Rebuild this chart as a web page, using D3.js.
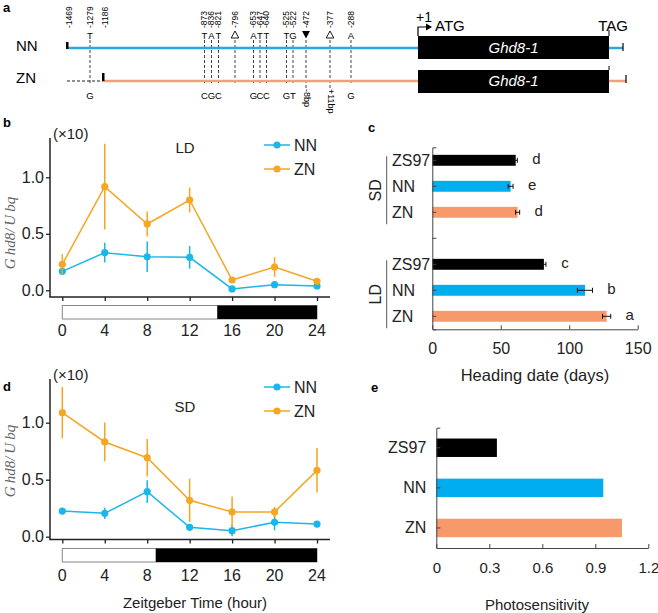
<!DOCTYPE html>
<html><head><meta charset="utf-8">
<script src="https://cdn.jsdelivr.net/npm/d3@7"></script>
<style>
body{margin:0;background:#fff}
svg{display:block}
text{font-family:"Liberation Sans",Arial,Helvetica,sans-serif}
</style>
</head><body><svg id="chart" width="658" height="613"></svg>
<script>
// ---------------- data ----------------
const hours = [0,4,8,12,16,20,24];
const ldNN    = [0.168,0.333,0.297,0.292,0.012,0.050,0.038];
const ldNNerr = [0.03,0.088,0.135,0.10,0.015,0.02,0.015];
const ldZN    = [0.230,0.917,0.587,0.799,0.091,0.206,0.080];
const ldZNerr = [0.09,0.38,0.11,0.11,0.015,0.087,0.02];
const sdNN    = [0.225,0.205,0.395,0.082,0.053,0.126,0.111];
const sdNNerr = [0.02,0.05,0.10,0.03,0.05,0.07,0.015];
const sdZN    = [1.088,0.831,0.693,0.319,0.217,0.217,0.582];
const sdZNerr = [0.225,0.17,0.165,0.19,0.136,0.044,0.195];
const exprTicks = [0,0.5,1.0];
const ldLightHours = 14.6, sdLightHours = 8.8;

const genotypes = ["ZS97","NN","ZN"];
const headingSD    = [60.9,57.2,62.3];
const headingSDerr = [1.2,1.8,1.5];
const headingLD    = [81.5,111.5,127.3];
const headingLDerr = [1.5,5.5,3.0];
const lettersSD = ["d","e","d"];
const lettersLD = ["c","b","a"];
const headingTicks = [0,50,100,150];

const photosensitivity = [0.343,0.945,1.051];
const photoTicks = [0,0.3,0.6,0.9,1.2];

const variantPos = [-1279,-873,-836,-821,-796,-653,-647,-640,-525,-522,-472,-377,-288];
const nnAllele   = ["T","T","A","T","open","A","T","T","T","G","filled","open","A"];
const znAllele   = ["G","C","G","C","","G","C","C","G","T","-8bp","+11bp","G"];
const posLabels  = [-1469,-1279,-1186,-873,-836,-821,-796,-653,-647,-640,-525,-522,-472,-377,-288];
const nnStart=-1469, znStart=-1186, atgPos=1, tagPos=894, nnEnd=960, znEnd=975;

// ---------------- colours ----------------
const cNN="#1bb6ea", cZN="#f5a623";
const bNN="#00aeef", bZN="#f8996b";
const gNN="#2aa9e0", gZN="#f2a07c";

const svg = d3.select("#chart");

// panel letters
[["a",3,12],["b",3,127],["c",368,132],["d",3,391],["e",371,392]].forEach(([t,x,y])=>{
  svg.append("text").attr("x",x).attr("y",y).attr("font-size",13).attr("font-weight","bold").text(t);
});

// ================= Panel a =================
(function(){
  const g = svg.append("g");
  const px = d3.scaleLinear()
    .domain([-1469,-1279,-1186,-873,-836,-821,-796,-653,-647,-640,-525,-522,-472,-377,-288,1,894,960,975])
    .range([67,90,103,204.5,211.5,218.5,235,253.5,260,266.5,286.5,293,306,330,351,418,609,623,626]);
  const yNN=48, yZN=81;
  g.append("text").attr("x",16).attr("y",yNN+3).attr("font-size",15).text("NN");
  g.append("text").attr("x",16).attr("y",yZN+2).attr("font-size",15).text("ZN");

  // dashed variant lines
  variantPos.forEach((p,i)=>{
    const ext = (znAllele[i].indexOf("bp")>=0) ? 88 : 85;
    g.append("line").attr("x1",px(p)).attr("x2",px(p)).attr("y1",40).attr("y2",ext)
      .attr("stroke","#444").attr("stroke-width",1).attr("stroke-dasharray","3,2");
  });
  // lines
  g.append("line").attr("x1",px(nnStart)).attr("x2",px(atgPos)).attr("y1",yNN).attr("y2",yNN).attr("stroke",gNN).attr("stroke-width",2.5);
  g.append("line").attr("x1",px(tagPos)).attr("x2",px(nnEnd)).attr("y1",yNN).attr("y2",yNN).attr("stroke",gNN).attr("stroke-width",2.5);
  g.append("line").attr("x1",px(znStart)).attr("x2",px(atgPos)).attr("y1",yZN).attr("y2",yZN).attr("stroke",gZN).attr("stroke-width",2.5);
  g.append("line").attr("x1",px(tagPos)).attr("x2",px(znEnd)).attr("y1",yZN).attr("y2",yZN).attr("stroke",gZN).attr("stroke-width",2.5);
  g.append("line").attr("x1",px(nnStart)).attr("x2",px(znStart)).attr("y1",yZN).attr("y2",yZN).attr("stroke","#222").attr("stroke-width",1).attr("stroke-dasharray","3,2");
  // start ticks
  g.append("rect").attr("x",px(nnStart)-1).attr("y",yNN-6).attr("width",2.5).attr("height",7).attr("fill","#000");
  g.append("rect").attr("x",px(znStart)-1).attr("y",yZN-8).attr("width",2.5).attr("height",8).attr("fill","#000");
  // end ticks
  g.append("line").attr("x1",px(nnEnd)).attr("x2",px(nnEnd)).attr("y1",yNN-5).attr("y2",yNN+3).attr("stroke","#000").attr("stroke-width",1.2);
  g.append("line").attr("x1",px(znEnd)).attr("x2",px(znEnd)).attr("y1",yZN-6).attr("y2",yZN+2).attr("stroke","#000").attr("stroke-width",1.2);
  // gene boxes
  [[yNN,36],[yZN,70]].forEach(([yy,top])=>{
    g.append("rect").attr("x",px(atgPos)).attr("y",top).attr("width",px(tagPos)-px(atgPos)).attr("height",23).attr("fill","#000");
    g.append("text").attr("x",(px(atgPos)+px(tagPos))/2).attr("y",yy+5).attr("text-anchor","middle")
      .attr("font-size",15).attr("font-style","italic").attr("fill","#fff").text("Ghd8-1");
  });
  // TAG ticks
  g.append("line").attr("x1",px(tagPos)).attr("x2",px(tagPos)).attr("y1",30).attr("y2",36).attr("stroke","#000").attr("stroke-width",1);
  g.append("line").attr("x1",px(tagPos)).attr("x2",px(tagPos)).attr("y1",66).attr("y2",70).attr("stroke","#000").attr("stroke-width",1);
  // +1 arrow
  const ax = px(atgPos);
  g.append("path").attr("d",`M${ax},36V27H${ax+9}`).attr("fill","none").attr("stroke","#000").attr("stroke-width",1.2);
  g.append("path").attr("d",`M${ax+8},23.5L${ax+14},27L${ax+8},30.5Z`).attr("fill","#000");
  g.append("text").attr("x",ax-2).attr("y",22).attr("font-size",14).text("+1");
  g.append("text").attr("x",ax+17).attr("y",31).attr("font-size",15).text("ATG");
  g.append("text").attr("x",px(tagPos)+4).attr("y",31).attr("font-size",15).attr("text-anchor","middle").text("TAG");

  // position labels (rotated)
  posLabels.forEach(p=>{
    const xx = px(p) + (p===nnStart||p===znStart ? 2 : 0);
    g.append("text").attr("transform",`translate(${xx},28) rotate(-90)`).attr("dy","0.35em")
      .attr("font-size",8.5).text(String(p));
  });
  // alleles
  variantPos.forEach((p,i)=>{
    const xx = px(p);
    const a = nnAllele[i];
    if (a==="open"){
      g.append("path").attr("d",`M${xx},31L${xx+3.8},38L${xx-3.8},38Z`).attr("fill","#fff").attr("stroke","#000").attr("stroke-width",0.9);
    } else if (a==="filled"){
      g.append("path").attr("d",`M${xx-4},31L${xx+4},31L${xx},38.5Z`).attr("fill","#000");
    } else {
      g.append("text").attr("x",xx).attr("y",38.5).attr("text-anchor","middle").attr("font-size",9.5).text(a);
    }
    const b = znAllele[i];
    if (b.indexOf("bp")>=0){
      g.append("text").attr("transform",`translate(${xx+1},89) rotate(90)`).attr("dy","0.35em")
        .attr("font-size",9).text(b);
    } else if (b){
      g.append("text").attr("x",xx).attr("y",99).attr("text-anchor","middle").attr("font-size",9.5).text(b);
    }
  });
})();

// ================= Panels b and d =================
function timePanel(o){
  const g = svg.append("g");
  const x = d3.scaleLinear().domain([0,24]).range([62.3,317]);
  const y = d3.scaleLinear().domain([0,1]).range([o.y0,o.y1]);
  g.append("line").attr("x1",50).attr("x2",50).attr("y1",o.axisTop).attr("y2",o.axisBottom).attr("stroke","#222").attr("stroke-width",1.5);
  g.append("line").attr("x1",49.25).attr("x2",330).attr("y1",o.axisBottom).attr("y2",o.axisBottom).attr("stroke","#222").attr("stroke-width",1.5);
  const ya = g.append("g").attr("transform","translate(50,0)")
    .call(d3.axisLeft(y).tickValues(exprTicks).tickFormat(d3.format(".1f")).tickSize(4).tickPadding(2));
  ya.select(".domain").remove();
  ya.selectAll("line").attr("stroke","#222").attr("stroke-width",1.3);
  ya.selectAll("text").attr("font-size",16).attr("fill","#222").attr("font-family","Liberation Sans, Arial, sans-serif");
  const xa = g.append("g").attr("transform",`translate(0,${o.axisBottom})`)
    .call(d3.axisBottom(x).tickValues(hours).tickSize(4).tickFormat(""));
  xa.select(".domain").remove();
  xa.selectAll("line").attr("stroke","#222").attr("stroke-width",1.3);
  hours.forEach(h=>{
    g.append("text").attr("x",x(h)).attr("y",o.tickLabelY+5.5).attr("text-anchor","middle").attr("font-size",16).attr("fill","#222").text(h);
  });
  g.append("rect").attr("x",x(0)).attr("y",o.barTop).attr("width",x(24)-x(0)).attr("height",13.5)
    .attr("fill","#fff").attr("stroke","#888").attr("stroke-width",1);
  g.append("rect").attr("x",x(o.light)).attr("y",o.barTop).attr("width",x(24)-x(o.light)).attr("height",13.5).attr("fill","#000");
  const series = [[o.nn,o.nnErr,cNN],[o.zn,o.znErr,cZN]];
  series.forEach(([vals,errs,col])=>{
    vals.forEach((v,i)=>{
      g.append("line").attr("x1",x(hours[i])).attr("x2",x(hours[i])).attr("y1",y(v-errs[i])).attr("y2",y(v+errs[i]))
        .attr("stroke",col).attr("stroke-width",1.5);
    });
    g.append("path").datum(vals).attr("fill","none").attr("stroke",col).attr("stroke-width",1.5)
      .attr("d",d3.line().x((d,i)=>x(hours[i])).y(d=>y(d)));
    g.selectAll(null).data(vals).enter().append("circle")
      .attr("cx",(d,i)=>x(hours[i])).attr("cy",d=>y(d)).attr("r",3.6).attr("fill",col);
  });
  g.append("text").attr("x",53).attr("y",o.axisTop+1).attr("font-size",15).attr("fill","#222").text("(\u00d710)");
  g.append("text").attr("x",185).attr("y",o.condY+5).attr("text-anchor","middle").attr("font-size",15).attr("fill","#222").text(o.cond);
  [["NN",cNN,o.legY1],["ZN",cZN,o.legY2]].forEach(([t,col,ly])=>{
    g.append("line").attr("x1",264).attr("x2",290).attr("y1",ly).attr("y2",ly).attr("stroke",col).attr("stroke-width",1.5);
    g.append("circle").attr("cx",277).attr("cy",ly).attr("r",3.6).attr("fill",col);
    g.append("text").attr("x",294).attr("y",ly+5.5).attr("font-size",16).attr("fill","#222").text(t);
  });
  const yl = g.append("text").attr("transform",`translate(15,${o.yLabelY}) rotate(-90)`).attr("text-anchor","middle")
    .attr("font-size",15).attr("font-style","italic").attr("fill","#666").style("font-family","Liberation Serif, DejaVu Serif, serif");
  yl.append("tspan").text("G");
  yl.append("tspan").attr("dx",3).text("hd8/");
  yl.append("tspan").attr("dx",3).text("U");
  yl.append("tspan").attr("dx",3).text("bq");
}

timePanel({y0:290.3,y1:177.3,axisTop:138,axisBottom:297,tickLabelY:330,barTop:305.5,light:ldLightHours,
  nn:ldNN,nnErr:ldNNerr,zn:ldZN,znErr:ldZNerr,cond:"LD",condY:148,legY1:145,legY2:169,yLabelY:233});
timePanel({y0:536.7,y1:422.7,axisTop:379,axisBottom:539.5,tickLabelY:575,barTop:548.5,light:sdLightHours,
  nn:sdNN,nnErr:sdNNerr,zn:sdZN,znErr:sdZNerr,cond:"SD",condY:407,legY1:387,legY2:411,yLabelY:461});
svg.append("text").attr("x",195).attr("y",608).attr("text-anchor","middle").attr("font-size",15).attr("fill","#222").text("Zeitgeber Time (hour)");

// ================= Panel c =================
(function(){
  const g = svg.append("g");
  const slots = ["SD-ZS97","SD-NN","SD-ZN","gap","LD-ZS97","LD-NN","LD-ZN"];
  const cx = d3.scaleLinear().domain([0,150]).range([432.3,637.7]);
  const cy = d3.scaleBand().domain(slots).range([147.3,329.3]).paddingInner(0.58).paddingOuter(0.29);
  const bw = cy.bandwidth();
  const colors = ["#000",bNN,bZN];
  const groups = [["SD",headingSD,headingSDerr,lettersSD],["LD",headingLD,headingLDerr,lettersLD]];
  groups.forEach(([grp,vals,errs,lets])=>{
    vals.forEach((v,i)=>{
      const s = grp+"-"+genotypes[i];
      const cyc = cy(s)+bw/2;
      g.append("rect").attr("x",cx(0)).attr("y",cy(s)).attr("width",cx(v)-cx(0)).attr("height",bw).attr("fill",colors[i]);
      const e = errs[i];
      g.append("path").attr("d",`M${cx(v-e)},${cyc}H${cx(v+e)}M${cx(v-e)},${cyc-2.5}V${cyc+2.5}M${cx(v+e)},${cyc-2.5}V${cyc+2.5}`)
        .attr("stroke","#111").attr("stroke-width",1).attr("fill","none");
      g.append("text").attr("x",cx(v+e)+19).attr("y",cyc+4).attr("text-anchor","middle").attr("font-size",15).attr("fill","#222").text(lets[i]);
      g.append("text").attr("x",392).attr("y",cyc+5.5).attr("font-size",16).attr("fill","#222").text(genotypes[i]);
    });
    const top = cy(grp+"-ZS97")+bw/2-4, bot = cy(grp+"-ZN")+bw/2+12;
    g.append("line").attr("x1",386.7).attr("x2",386.7).attr("y1",top).attr("y2",bot).attr("stroke","#555").attr("stroke-width",1);
    g.append("text").attr("transform",`translate(375,${(top+bot)/2}) rotate(-90)`).attr("dy","0.36em")
      .attr("text-anchor","middle").attr("font-size",16).attr("fill","#222").text(grp);
  });
  const ya = g.append("g").attr("transform",`translate(${cx(0)},0)`)
    .call(d3.axisLeft(cy).tickSizeInner(-4).tickSizeOuter(-4).tickFormat(""));
  ya.selectAll("path,line").attr("stroke","#444");
  const xa = g.append("g").attr("transform","translate(0,329.3)")
    .call(d3.axisBottom(cx).tickValues(headingTicks).tickSizeInner(-4).tickSizeOuter(0).tickPadding(13.5));
  xa.selectAll("path,line").attr("stroke","#444");
  xa.selectAll("text").attr("font-size",16).attr("fill","#222").attr("font-family","Liberation Sans, Arial, sans-serif");
  g.append("text").attr("x",535).attr("y",381).attr("text-anchor","middle").attr("font-size",16.5).attr("fill","#222").text("Heading date (days)");
})();

// ================= Panel e =================
(function(){
  const g = svg.append("g");
  const ex = d3.scaleLinear().domain([0,1.2]).range([436.3,648.3]);
  const ey = d3.scaleBand().domain(genotypes).range([427.7,548]).paddingInner(0.54).paddingOuter(0.27);
  const colors = ["#000",bNN,bZN];
  genotypes.forEach((gt,i)=>{
    g.append("rect").attr("x",ex(0)).attr("y",ey(gt)).attr("width",ex(photosensitivity[i])-ex(0)).attr("height",ey.bandwidth()).attr("fill",colors[i]);
  });
  const ya = g.append("g").attr("transform",`translate(${ex(0)},0)`)
    .call(d3.axisLeft(ey).tickSizeInner(-4).tickSizeOuter(-4).tickPadding(10));
  ya.selectAll("path,line").attr("stroke","#444");
  ya.selectAll("text").attr("font-size",16).attr("fill","#222").attr("font-family","Liberation Sans, Arial, sans-serif");
  const xa = g.append("g").attr("transform","translate(0,548)")
    .call(d3.axisBottom(ex).tickValues(photoTicks).tickFormat(d=>d===0?"0":d3.format(".1f")(d)).tickSizeInner(-4).tickSizeOuter(0).tickPadding(14.5));
  xa.selectAll("path,line").attr("stroke","#444");
  xa.selectAll("text").attr("font-size",15).attr("fill","#222").attr("font-family","Liberation Sans, Arial, sans-serif");
  g.append("text").attr("x",537).attr("y",610).attr("text-anchor","middle").attr("font-size",15).attr("fill","#222").text("Photosensitivity");
})();
</script>
</body></html>
